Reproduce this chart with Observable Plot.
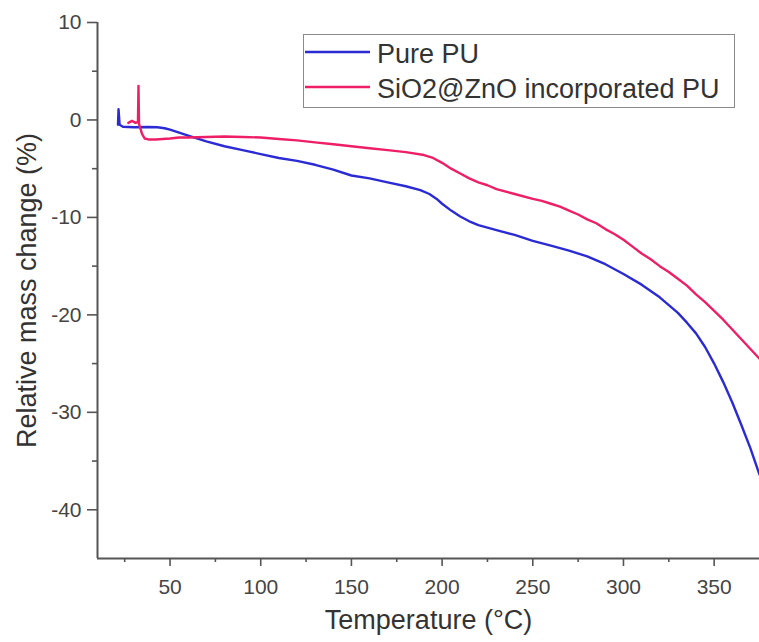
<!DOCTYPE html>
<html><head><meta charset="utf-8">
<script src="https://cdn.jsdelivr.net/npm/d3@7"></script>
<script src="https://cdn.jsdelivr.net/npm/@observablehq/plot@0.6"></script>
<style>
body{margin:0;background:#fff;}
#wrap{position:relative;width:759px;height:642px;font-family:"Liberation Sans",Arial,sans-serif;}
#legend{position:absolute;left:0;top:0;pointer-events:none;}
</style></head>
<body><div id="wrap"></div>
<script>
// Series names and colours
const seriesNames = ["Pure PU", "SiO2@ZnO incorporated PU"];
const seriesColors = ["#2b2bd4", "#ee1f66"];

// Pure PU: temperature (°C) and relative mass change (%)
const tempPure = [21.3, 21.6, 22.2, 24, 30, 38, 43, 47, 50, 55, 60, 70, 80, 90, 100, 110, 120, 130, 140, 150, 160, 170, 180, 188, 193, 197, 200, 205, 210, 215, 220, 230, 240, 250, 260, 270, 280, 290, 300, 310, 320, 330, 335, 340, 345, 350, 355, 360, 365, 370, 375];
const massPure = [-0.5, 1.1, -0.5, -0.7, -0.75, -0.72, -0.75, -0.85, -1.0, -1.3, -1.6, -2.2, -2.7, -3.1, -3.5, -3.9, -4.2, -4.6, -5.1, -5.7, -6.0, -6.4, -6.8, -7.2, -7.6, -8.1, -8.6, -9.3, -9.9, -10.4, -10.8, -11.3, -11.8, -12.4, -12.9, -13.4, -14.0, -14.8, -15.8, -16.9, -18.2, -19.8, -20.8, -21.9, -23.3, -25.0, -26.9, -29.0, -31.3, -33.7, -36.4];

// SiO2@ZnO incorporated PU
const tempComp = [27, 29, 31, 32.3, 32.6, 32.9, 34.5, 36, 38, 42, 50, 55, 60, 70, 80, 90, 100, 110, 120, 130, 140, 150, 160, 170, 180, 190, 195, 200, 205, 210, 215, 220, 225, 230, 240, 250, 255, 260, 265, 270, 275, 280, 285, 290, 295, 300, 305, 310, 315, 320, 325, 330, 335, 340, 345, 350, 355, 360, 365, 370, 375];
const massComp = [-0.3, -0.1, -0.3, -0.2, 3.5, -0.4, -1.4, -1.9, -2.0, -2.0, -1.9, -1.8, -1.8, -1.75, -1.7, -1.75, -1.8, -1.95, -2.1, -2.3, -2.5, -2.7, -2.9, -3.1, -3.3, -3.6, -3.9, -4.4, -5.0, -5.5, -6.0, -6.4, -6.7, -7.1, -7.6, -8.1, -8.3, -8.6, -8.9, -9.3, -9.7, -10.2, -10.6, -11.2, -11.7, -12.3, -13.0, -13.7, -14.3, -15.0, -15.6, -16.3, -17.0, -17.9, -18.7, -19.6, -20.5, -21.5, -22.5, -23.5, -24.5];

// Axis ticks
const xMajor = [50, 100, 150, 200, 250, 300, 350];
const xMinor = [25, 75, 125, 175, 225, 275, 325];
const yMajor = [-40, -30, -20, -10, 0, 10];
const yMinor = [-35, -25, -15, -5, 5];
const xLabel = "Temperature (°C)";
const yLabel = "Relative mass change (%)";

const rows = [
  ...tempPure.map((t, i) => ({t, m: massPure[i], s: seriesNames[0]})),
  ...tempComp.map((t, i) => ({t, m: massComp[i], s: seriesNames[1]}))
];

const axisColor = "#555";
const plot = Plot.plot({
  width: 759, height: 642,
  marginLeft: 97, marginRight: 0, marginTop: 22, marginBottom: 84,
  style: {fontFamily: "'Liberation Sans', Arial, sans-serif", fontSize: "21px", color: "#444", background: "#fff"},
  x: {domain: [10, 375]},
  y: {domain: [-45, 10]},
  color: {domain: seriesNames, range: seriesColors},
  marks: [
    Plot.axisX({ticks: xMinor, tickSize: 4, tickFormat: () => "", label: null, stroke: axisColor, strokeWidth: 1.6}),
    Plot.axisX({ticks: xMajor, tickSize: 8, tickPadding: 13, tickFormat: d => String(d), label: null, stroke: axisColor, strokeWidth: 1.6, fill: "#444"}),
    Plot.axisY({ticks: yMinor, tickSize: 5, tickFormat: () => "", label: null, stroke: axisColor, strokeWidth: 1.6}),
    Plot.axisY({ticks: yMajor, tickSize: 10, tickPadding: 6, tickFormat: d => String(d), label: null, stroke: axisColor, strokeWidth: 1.6, fill: "#444"}),
    Plot.ruleX([10], {stroke: axisColor, strokeWidth: 2}),
    Plot.ruleY([-45], {stroke: axisColor, strokeWidth: 2}),
    Plot.line(rows, {x: "t", y: "m", z: "s", stroke: "s", strokeWidth: 2.4, curve: "linear"}),
    Plot.text([xLabel], {frameAnchor: "bottom", dy: 70, fontSize: 27, fill: "#333"}),
    Plot.text([yLabel], {frameAnchor: "left", textAnchor: "middle", rotate: -90, dx: -70, fontSize: 27, fill: "#333"})
  ]
});
const wrap = document.getElementById("wrap");
wrap.appendChild(plot);

// Legend overlay
const svg = d3.select(wrap).append("svg").attr("id", "legend").attr("width", 759).attr("height", 642);
svg.append("rect").attr("x", 303.5).attr("y", 34.5).attr("width", 431).attr("height", 73)
  .attr("fill", "#fff").attr("stroke", "#8a8a8a").attr("stroke-width", 1);
seriesNames.forEach((name, i) => {
  const yy = 52 + i * 35;
  svg.append("line").attr("x1", 305).attr("x2", 370).attr("y1", yy).attr("y2", yy)
    .attr("stroke", seriesColors[i]).attr("stroke-width", 2.6);
  svg.append("text").attr("x", 377).attr("y", yy + 11).attr("fill", "#333")
    .attr("font-family", "'Liberation Sans', Arial, sans-serif").attr("font-size", 27).text(name);
});
</script>
</body></html>
